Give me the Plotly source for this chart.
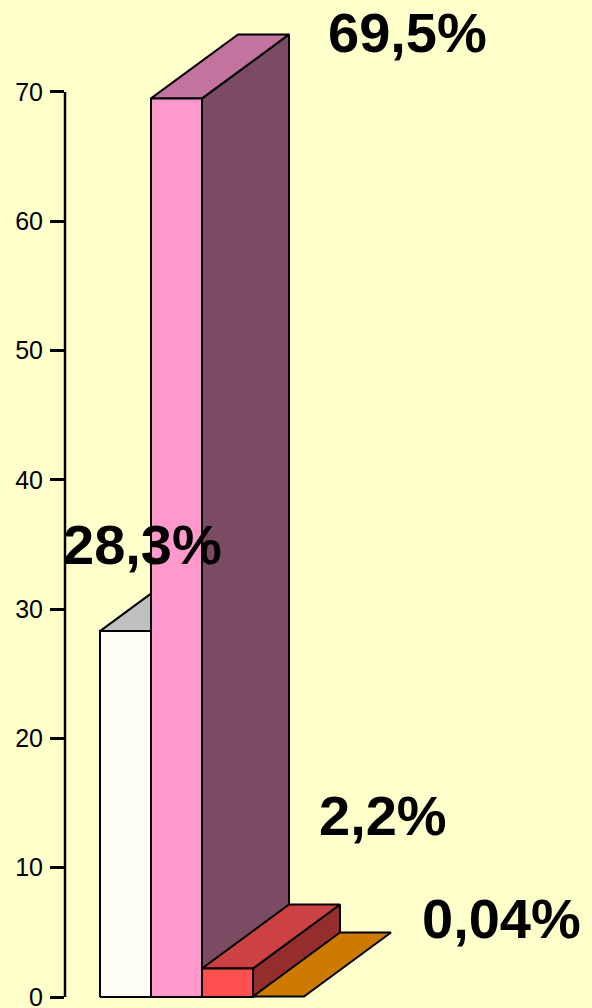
import plotly.graph_objects as go

# ---- data ----
categories = ["A", "B", "C", "D"]
values = [28.3, 69.5, 2.2, 0.04]
value_labels = ["28,3%", "69,5%", "2,2%", "0,04%"]
y_ticks = [0, 10, 20, 30, 40, 50, 60, 70]

# ---- styles ----
front_colors = ["#FFFFF5", "#FF99CC", "#FF5050", "#FF9900"]
top_colors = ["#C0C0C0", "#C2739E", "#CC4242", "#CC7A00"]
side_colors = ["#A0A0A0", "#7B4B63", "#962D2D", "#995C00"]
label_pos = [(0.824, 34.96), (6.02, 74.56), (5.55, 14.0), (7.88, 6.11)]

DX = 1.706   # depth offset (x units)
DY = 4.95    # depth offset (y units)
W = 1.0      # bar width
BG = "#FFFFCC"

fig = go.Figure()

def poly(xs, ys, color):
    fig.add_trace(go.Scatter(
        x=xs + [xs[0]], y=ys + [ys[0]], mode="lines", fill="toself",
        fillcolor=color, line=dict(color="black", width=2),
        hoverinfo="skip", showlegend=False))

for i, (cat, v) in enumerate(zip(categories, values)):
    x0, x1 = i * W, i * W + W
    # side face
    if v > 0.5:
        poly([x1, x1 + DX, x1 + DX, x1], [0, DY, v + DY, v], side_colors[i])
    # top face
    poly([x0, x1, x1 + DX, x0 + DX], [v, v, v + DY, v + DY], top_colors[i])
    # front face
    if v > 0.5:
        poly([x0, x1, x1, x0], [0, 0, v, v], front_colors[i])

for (lx, ly), txt in zip(label_pos, value_labels):
    fig.add_annotation(x=lx, y=ly, xref="x", yref="y", text=txt, showarrow=False,
                       font=dict(family="Liberation Sans, Arial", size=56, color="black",
                                 weight="bold"),
                       xanchor="center", yanchor="middle")

# axis line from 0 to 70
fig.add_shape(type="line", xref="paper", yref="y", x0=0, x1=0, y0=0, y1=70,
              line=dict(color="black", width=2.5))

fig.update_layout(
    width=592, height=1008,
    margin=dict(l=65, r=0, t=0, b=0),
    paper_bgcolor=BG, plot_bgcolor=BG,
    xaxis=dict(range=[-0.686, 9.647], visible=False, fixedrange=True, automargin=False),
    yaxis=dict(range=[-0.851, 77.11], showgrid=False, zeroline=False, showline=False,
               tickvals=y_ticks, ticktext=[str(t) for t in y_ticks],
               ticks="outside", ticklen=14, tickwidth=2.5, tickcolor="black",
               ticklabelstandoff=2, ticklabeloverflow="allow", automargin=False,
               tickfont=dict(family="Liberation Sans, Arial", size=25, color="black"),
               fixedrange=True),
)

fig.write_html("out.html")
